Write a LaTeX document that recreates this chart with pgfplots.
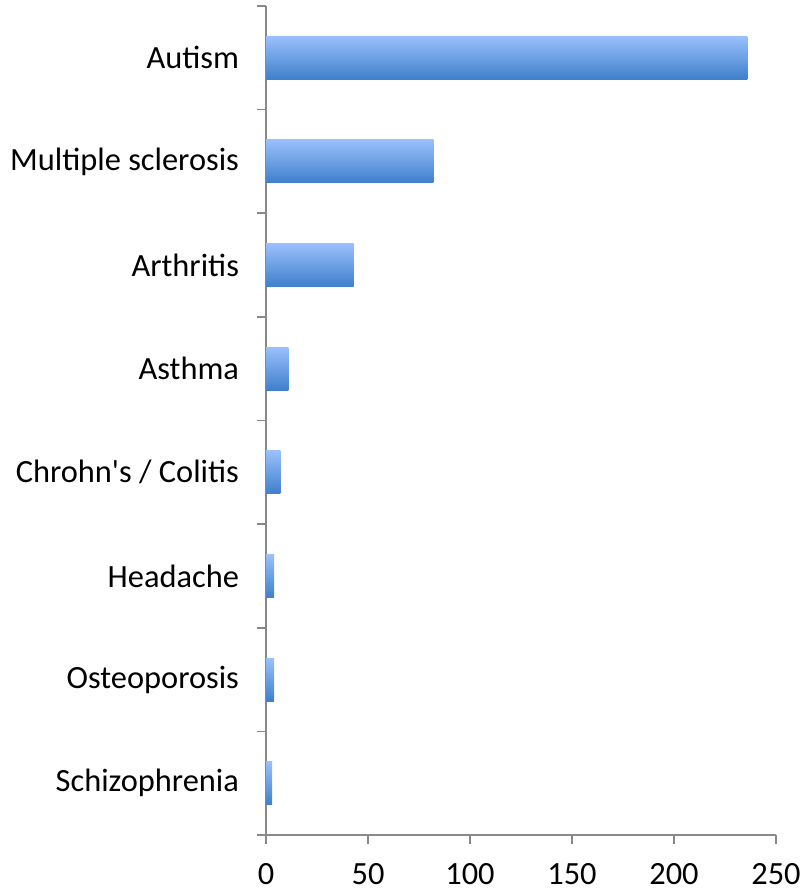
\documentclass[border=0pt]{standalone}
\usepackage{fontspec}
\setmainfont{Carlito}
\usepackage{pgfplots}
\pgfplotsset{compat=1.18}
\usepackage{pgfplotstable}

\definecolor{barTop}{HTML}{99C0FC}
\definecolor{barBot}{HTML}{3F7FCC}
\definecolor{axisGray}{HTML}{898989}

% Number of cases by condition (Schizophrenia at the bottom)
\pgfplotstableread{
pos value
0 3
1 4
2 4
3 7
4 11
5 43
6 82
7 236
}\casedata

\begin{document}
\begin{tikzpicture}
\begin{axis}[
  name=main,
  scale only axis,
  width=255pt, height=414.5pt,
  xbar, bar width=21.5pt,
  xmin=0, xmax=250,
  ymin=-0.5, ymax=7.5,
  axis lines*=left,
  axis line style={axisGray, line width=0.85pt},
  xtick={0,50,...,250},
  ytick={-0.5,0.5,...,7.5},
  y tick label as interval,
  yticklabels={Schizophrenia, Osteoporosis, Headache, Chrohn\textquotesingle s / Colitis, Asthma, Arthritis, Multiple sclerosis, Autism},
  tick align=outside,
  major tick length=4.5pt,
  tick style={axisGray, line width=0.85pt},
  tick label style={font=\fontsize{16.2}{19}\selectfont, text=black},
  /pgf/number format/assume math mode=true,
  xticklabel style={yshift=-6pt},
  yticklabel style={xshift=-5.5pt},
  clip=false,
]
% one plot per bar so that every bar gets its own vertical gradient
\pgfplotsinvokeforeach{0,...,7}{
  \addplot[draw=none, bar shift=0pt, top color=barTop, bottom color=barBot,
    middle color=barTop!50!barBot,
    restrict y to domain=#1:#1]
    table[x=value, y=pos] {\casedata};
}
\end{axis}
\pgfresetboundingbox
\useasboundingbox ([shift={(-133pt,-28.5pt)}]main.south west) rectangle ([shift={(13pt,3pt)}]main.north east);
\end{tikzpicture}
\end{document}
